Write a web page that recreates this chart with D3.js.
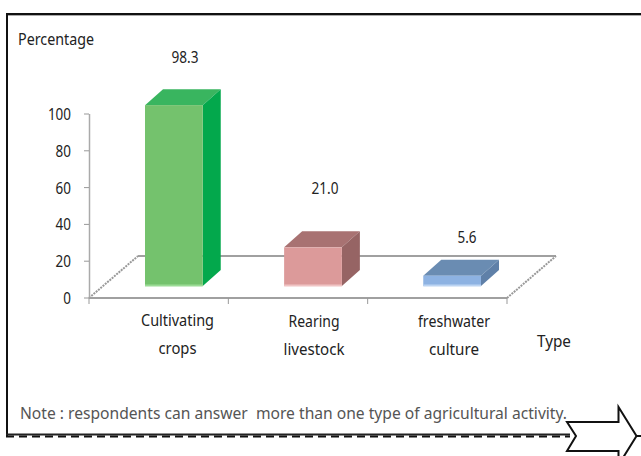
<!DOCTYPE html>
<html><head><meta charset="utf-8">
<script src="https://cdn.jsdelivr.net/npm/d3@7"></script>
<style>html,body{margin:0;padding:0;background:#fff}svg{display:block}text{font-family:"Noto Sans",sans-serif;fill:#222}</style>
</head><body><svg id="c" width="641" height="456"></svg>
<script>
const categories=["Cultivating crops","Rearing livestock","freshwater culture"];
const categoryLines=[["Cultivating","crops"],["Rearing","livestock"],["freshwater","culture"]];
const values=[98.3,21.0,5.6];
const valueLabels=["98.3","21.0","5.6"];
const yTicks=[0,20,40,60,80,100];
const frontColors=["#74c26d","#dc9a9a","#8db2e2"];
const topColors=["#39b55f","#a87272","#6a8cb2"];
const sideColors=["#03a84c","#966464","#5f80a8"];
const edgeColors=["#9bdb96","#f0c4c4","#bcd4f2"];

const svg=d3.select("#c");
const y=d3.scaleLinear().domain([0,100]).range([298,114]);
const x=d3.scaleBand().domain(categories).range([145,481]).paddingInner(0.585).paddingOuter(0);
const depthX=18, depthY=16, floorLift=12, floorX=49, floorY=42;
const squeeze=(sel,w)=>sel.attr("textLength",w).attr("lengthAdjust","spacingAndGlyphs");

// frame
svg.append("path").attr("d","M7,436V14H641").attr("fill","none").attr("stroke","#111").attr("stroke-width",2);
svg.append("path").attr("d","M8,15.5H641").attr("stroke","#aaa").attr("stroke-width",1);
svg.append("path").attr("d","M6,434.5H570").attr("stroke","#222").attr("stroke-width",2);
svg.append("path").attr("d","M6,436.5H570").attr("stroke","#111").attr("stroke-width",2).attr("stroke-dasharray","8 5");
svg.append("path").attr("d","M636,436H641").attr("stroke","#111").attr("stroke-width",2);
svg.append("path").attr("d","M567,422H618.5V407L636.5,436L618.5,465V451H567L576,436Z").attr("fill","#fff").attr("stroke","#111").attr("stroke-width",2);

// floor
const yz=y(0);
svg.append("path").attr("d",`M${89+floorX},${yz-floorY}H${507+floorX}`).attr("stroke","#808080").attr("stroke-width",1.5);
svg.append("path").attr("d",`M89,${yz}L${89+floorX},${yz-floorY}M507,${yz}L${507+floorX},${yz-floorY}`).attr("stroke","#999").attr("stroke-width",2).attr("stroke-dasharray","2 1");

// y axis
svg.append("path").attr("d",`M89.5,${y(100)}V${yz}`).attr("stroke","#aaa").attr("stroke-width",1.5);
const yg=svg.append("g");
yg.selectAll("line").data(yTicks).join("line").attr("x1",84).attr("x2",89).attr("y1",d=>y(d)).attr("y2",d=>y(d)).attr("stroke","#999");
yg.selectAll("text").data(yTicks).join("text").attr("x",71).attr("y",d=>y(d)+6).attr("text-anchor","end").attr("font-size",16).each(function(d){d3.select(this).attr("textLength",String(d).length*7.7).attr("lengthAdjust","spacingAndGlyphs");}).text(d=>d);

// x axis
svg.append("path").attr("d",`M89,${yz}H507`).attr("stroke","#a0a0a0").attr("stroke-width",2);
const xTicks=[0,1,2,3].map(i=>89+i*(507-89)/3);
svg.selectAll(".xt").data(xTicks).join("line").attr("class","xt").attr("x1",d=>d).attr("x2",d=>d).attr("y1",yz).attr("y2",yz+6).attr("stroke","#999");

// bars
const bars=svg.selectAll(".bar").data(categories).join("g").attr("class","bar");
const base=yz-floorLift;
const W=x.bandwidth();
bars.append("path").attr("fill",(d,i)=>topColors[i]).attr("d",(d,i)=>{const a=x(d),t=y(values[i])-floorLift;return `M${a},${t}L${a+depthX},${t-depthY}H${a+W+depthX}L${a+W},${t}Z`;});
bars.append("path").attr("fill",(d,i)=>sideColors[i]).attr("d",(d,i)=>{const a=x(d)+W,t=y(values[i])-floorLift;return `M${a},${t}L${a+depthX},${t-depthY}V${base-depthY}L${a},${base}Z`;});
bars.append("rect").attr("fill",(d,i)=>frontColors[i]).attr("x",d=>x(d)).attr("width",W).attr("y",(d,i)=>y(values[i])-floorLift).attr("height",(d,i)=>yz-y(values[i]));
bars.append("rect").attr("fill",(d,i)=>edgeColors[i]).attr("x",d=>x(d)).attr("width",W).attr("y",base-1.5).attr("height",2);

// value labels
const labelY=[63,194,243], labelX=[185,325,467], labelW=[27,27,19];
valueLabels.forEach((t,i)=>squeeze(svg.append("text").attr("x",labelX[i]).attr("y",labelY[i]).attr("text-anchor","middle").attr("font-size",15.5),labelW[i]).text(t));

// category labels
const catX=[177.5,314,454], catY=[[326,354],[327,355],[327,355]], catW=[[73,38],[51,61],[72,50]];
categoryLines.forEach((ls,i)=>ls.forEach((l,j)=>squeeze(svg.append("text").attr("x",catX[i]).attr("y",catY[i][j]).attr("text-anchor","middle").attr("font-size",16),catW[i][j]).text(l)));

squeeze(svg.append("text").attr("x",18).attr("y",45).attr("font-size",16),76).text("Percentage");
squeeze(svg.append("text").attr("x",537).attr("y",347).attr("font-size",16),34).text("Type");
squeeze(svg.append("text").attr("x",20).attr("y",419).attr("font-size",15.5).style("fill","#555").style("white-space","pre"),547).text("Note : respondents can answer  more than one type of agricultural activity.");
</script></body></html>
